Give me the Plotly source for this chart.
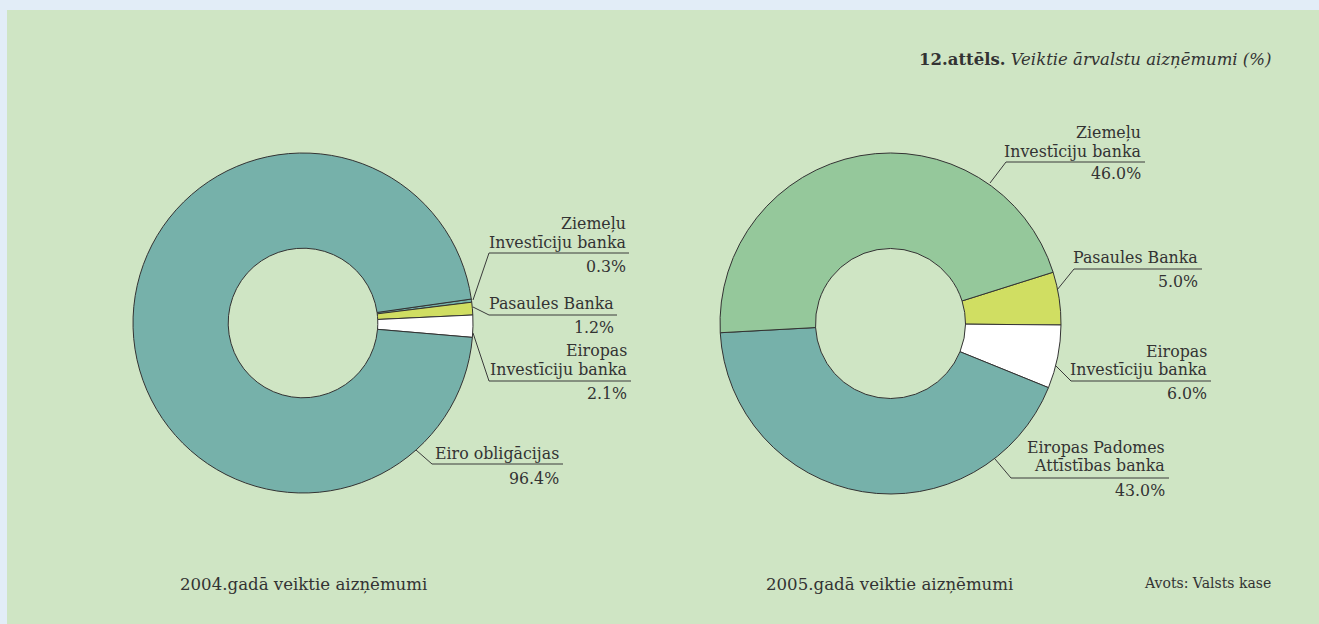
import plotly.graph_objects as go

# ---------------- data ----------------
cats_2004 = ["Ziemeļu Investīciju banka", "Pasaules Banka", "Eiropas Investīciju banka", "Eiro obligācijas"]
vals_2004 = [0.3, 1.2, 2.1, 96.4]

cats_2005 = ["Pasaules Banka", "Eiropas Investīciju banka", "Eiropas Padomes Attīstības banka", "Ziemeļu Investīciju banka"]
vals_2005 = [5.0, 6.0, 43.0, 46.0]

label_lines = {
    "Ziemeļu Investīciju banka": ["Ziemeļu", "Investīciju banka"],
    "Pasaules Banka": ["Pasaules Banka"],
    "Eiropas Investīciju banka": ["Eiropas", "Investīciju banka"],
    "Eiro obligācijas": ["Eiro obligācijas"],
    "Eiropas Padomes Attīstības banka": ["Eiropas Padomes", "Attīstības banka"],
}

title_bold = "12.attēls."
title_italic = "Veiktie ārvalstu aizņēmumi (%)"
sub_2004 = "2004.gadā veiktie aizņēmumi"
sub_2005 = "2005.gadā veiktie aizņēmumi"
source = "Avots: Valsts kase"

# ---------------- styling ----------------
W, H = 1319, 624
OUTER_BG = "#e2edf7"
PANEL_BG = "#cfe5c4"
TEXT = "#333333"
FONT = "DejaVu Serif"
FS = 15.8

colors = {
    "Pasaules Banka": "#d0de62",
    "Eiropas Investīciju banka": "#ffffff",
    "Eiro obligācijas": "#76b1aa",
    "Eiropas Padomes Attīstības banka": "#76b1aa",
}
colors_2004 = [("#76b1aa" if c == "Ziemeļu Investīciju banka" else colors[c]) for c in cats_2004]
colors_2005 = [("#95c89b" if c == "Ziemeļu Investīciju banka" else colors[c]) for c in cats_2005]


def X(p):
    return p / W


def Y(p):
    return 1 - p / H


fig = go.Figure()

fig.add_trace(go.Pie(
    labels=cats_2004, values=vals_2004, sort=False, direction="clockwise",
    rotation=81.9, hole=0.44, textinfo="none", hoverinfo="label+percent",
    marker=dict(colors=colors_2004, line=dict(color="#333333", width=1)),
    domain=dict(x=[X(133), X(473)], y=[Y(493), Y(153)]),
    showlegend=False,
))
fig.add_trace(go.Pie(
    labels=cats_2005, values=vals_2005, sort=False, direction="clockwise",
    rotation=72.5, hole=0.44, textinfo="none", hoverinfo="label+percent",
    marker=dict(colors=colors_2005, line=dict(color="#333333", width=1)),
    domain=dict(x=[X(720), X(1061)], y=[Y(494), Y(153)]),
    showlegend=False,
))

# label layout: right edge, y of name lines, underline y, underline x0/x1, pct y, leader end
label_pos_2004 = {
    "Ziemeļu Investīciju banka": dict(r=628, ys=[223, 243], uy=253, ux=(489, 629), py=266, end=(473, 300)),
    "Pasaules Banka": dict(r=616, ys=[303], uy=315, ux=(489, 617), py=327, end=(473, 307)),
    "Eiropas Investīciju banka": dict(r=629, ys=[350, 369], uy=381, ux=(489, 631), py=393, end=(473, 333)),
    "Eiro obligācijas": dict(r=561, ys=[453], uy=464, ux=(432, 563), py=478, end=(416, 450)),
}
label_pos_2005 = {
    "Ziemeļu Investīciju banka": dict(r=1143, ys=[132, 151], uy=162, ux=(1006, 1145), py=173, end=(990, 183)),
    "Pasaules Banka": dict(r=1200, ys=[257], uy=269, ux=(1074, 1202), py=282, end=(1057, 290)),
    "Eiropas Investīciju banka": dict(r=1209, ys=[351, 369], uy=381, ux=(1071, 1211), py=393, end=(1056, 366)),
    "Eiropas Padomes Attīstības banka": dict(r=1167, ys=[447, 465], uy=478, ux=(1011, 1169), py=490, end=(995, 459)),
}

annotations = []
shapes = [
    dict(type="rect", xref="paper", yref="paper", x0=X(7), x1=1, y0=0, y1=Y(10),
         fillcolor=PANEL_BG, line=dict(width=0), layer="below"),
]


def add_labels(cats, vals, pos):
    for c, v in zip(cats, vals):
        p = pos[c]
        for line, yy in zip(label_lines[c], p["ys"]):
            annotations.append(dict(x=X(p["r"]), y=Y(yy), xref="paper", yref="paper",
                                    text=line, showarrow=False, xanchor="right", yanchor="middle",
                                    font=dict(family=FONT, size=FS, color=TEXT)))
        annotations.append(dict(x=X(p["r"]), y=Y(p["py"]), xref="paper", yref="paper",
                                text=f"{v:.1f}%", showarrow=False, xanchor="right", yanchor="middle",
                                font=dict(family=FONT, size=FS, color=TEXT)))
        x0, x1 = p["ux"]
        ex, ey = p["end"]
        shapes.append(dict(type="path", xref="paper", yref="paper",
                           path=f"M {X(ex)},{Y(ey)} L {X(x0)},{Y(p['uy'])} L {X(x1)},{Y(p['uy'])}",
                           line=dict(color="#3a3a3a", width=1)))


add_labels(cats_2004, vals_2004, label_pos_2004)
add_labels(cats_2005, vals_2005, label_pos_2005)

annotations.append(dict(x=X(1273), y=Y(59), xref="paper", yref="paper", showarrow=False,
                        xanchor="right", yanchor="middle",
                        text=f"<b>{title_bold}</b> <i>{title_italic}</i>",
                        font=dict(family=FONT, size=16.5, color=TEXT)))
annotations.append(dict(x=X(303), y=Y(584), xref="paper", yref="paper", showarrow=False,
                        xanchor="center", yanchor="middle", text=sub_2004,
                        font=dict(family=FONT, size=16.6, color=TEXT)))
annotations.append(dict(x=X(889.5), y=Y(584), xref="paper", yref="paper", showarrow=False,
                        xanchor="center", yanchor="middle", text=sub_2005,
                        font=dict(family=FONT, size=16.6, color=TEXT)))
annotations.append(dict(x=X(1273), y=Y(583), xref="paper", yref="paper", showarrow=False,
                        xanchor="right", yanchor="middle", text=source,
                        font=dict(family=FONT, size=14, color=TEXT)))

fig.update_layout(
    width=W, height=H, autosize=False,
    margin=dict(l=0, r=0, t=0, b=0),
    paper_bgcolor=OUTER_BG, plot_bgcolor=OUTER_BG,
    annotations=annotations, shapes=shapes,
    font=dict(family=FONT, size=FS, color=TEXT),
)

fig.write_html("out.html", config={"displayModeBar": False},
               post_script="document.body.style.margin='0';document.body.style.overflow='hidden';")
